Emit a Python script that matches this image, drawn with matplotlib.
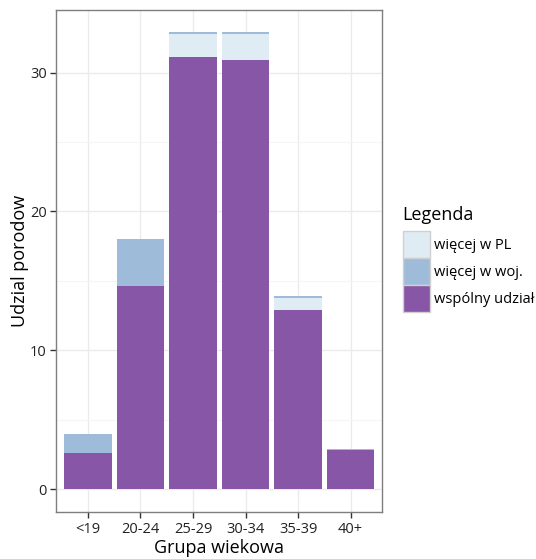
import numpy as np
import matplotlib.pyplot as plt
from matplotlib.patches import Patch

plt.rcParams['font.family'] = ['Open Sans', 'DejaVu Sans']

# age groups and stacked shares
groups = ['<19', '20-24', '25-29', '30-34', '35-39', '40+']
wspolny = [2.6, 14.6, 31.1, 30.9, 12.9, 2.85]
wiecej_woj = [1.4, 3.4, 0.1, 0.1, 0.1, 0.07]
wiecej_pl = [0.0, 0.0, 1.7, 1.9, 0.9, 0.0]

c_pl = '#e0ecf4'
c_woj = '#9ebcda'
c_wsp = '#8856a7'

fig = plt.figure(figsize=(5.36, 5.59), dpi=100)
ax = fig.add_axes([0.1054, 0.0841, 0.6073, 0.8989])

x = np.arange(len(groups))
wspolny = np.array(wspolny)
wiecej_woj = np.array(wiecej_woj)
wiecej_pl = np.array(wiecej_pl)

# stack: wspolny at the bottom, then PL, then the thin woj. part on top
ax.bar(x, wspolny, width=0.9, color=c_wsp, zorder=3)
ax.bar(x, wiecej_pl, bottom=wspolny, width=0.9, color=c_pl, zorder=3)
ax.bar(x, wiecej_woj, bottom=wspolny + wiecej_pl, width=0.9, color=c_woj, zorder=3)

top = (wspolny + wiecej_woj + wiecej_pl).max()
ax.set_ylim(-0.05 * top, top * 1.05)
ax.set_xlim(-0.6, len(groups) - 0.4)

ax.set_xticks(x)
ax.set_xticklabels(groups)
ax.set_yticks([0, 10, 20, 30])
ax.set_yticks([5, 15, 25], minor=True)

ax.grid(True, which='major', color='#ebebeb', linewidth=1.0, zorder=0)
ax.grid(True, which='minor', axis='y', color='#f5f5f5', linewidth=0.8, zorder=0)
ax.tick_params(which='minor', length=0)
ax.tick_params(which='major', length=4, width=1, color='#333333', labelsize=10.5,
               labelcolor='#222222', pad=3)

for s in ax.spines.values():
    s.set_color('#7f7f7f')
    s.set_linewidth(1)

ax.set_xlabel('Grupa wiekowa', fontsize=13, labelpad=2)
ax.set_ylabel('Udzial porodow', fontsize=13, labelpad=1)

handles = [Patch(facecolor=c_pl, edgecolor='#d0d0d0', label='więcej w PL'),
           Patch(facecolor=c_woj, edgecolor='#d0d0d0', label='więcej w woj.'),
           Patch(facecolor=c_wsp, edgecolor='#d0d0d0', label='wspólny udział')]
leg = fig.legend(handles=handles, title='Legenda', loc='upper left',
                 bbox_to_anchor=(0.751, 0.632), frameon=False, fontsize=10.5,
                 title_fontsize=13, handlelength=1.9, handleheight=2.47,
                 handletextpad=0.25, labelspacing=0.0, borderaxespad=0,
                 borderpad=0)
leg._legend_box.align = 'left'
leg._legend_box.sep = 5

fig.savefig('out.png', dpi=100)
